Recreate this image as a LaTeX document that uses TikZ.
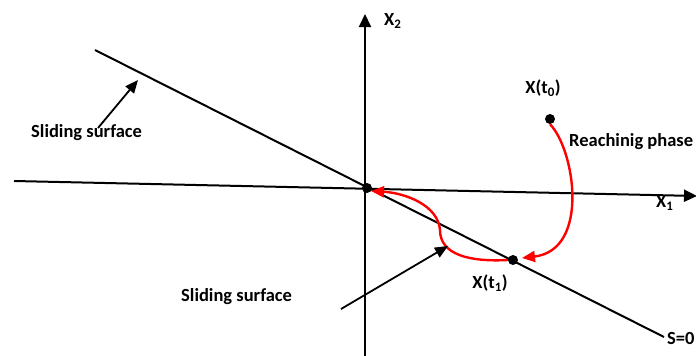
\documentclass[tikz,border=0pt]{standalone}
\usepackage{fontspec}
\setmainfont{Carlito}
\usetikzlibrary{arrows.meta}
\begin{document}
\begin{tikzpicture}[x=1pt,y=-1pt,
  lbl/.style={font=\bfseries\fontsize{18.5}{21}\selectfont, inner sep=0pt},
  axis/.style={line width=2pt,-{Triangle[length=13pt,width=12pt]}},
  pt/.style={circle,fill=black,inner sep=0pt,minimum size=10pt},
  blk/.style={line width=1.8pt,-{Triangle[length=13pt,width=11pt]}},
  redarr/.style={red,line width=2.4pt,-{Triangle[length=13pt,width=11pt]}}]
\useasboundingbox (0,0) rectangle (696,356);
% axes
\coordinate (vb) at (365,356);
\coordinate (vt) at (365,14);
\draw[axis] (vb) -- (vt);
\coordinate (hl) at (14,181);
\coordinate (hr) at (697,196);
\draw[axis] (hl) -- (hr);
\node[lbl,anchor=west] (x2) at (384,21) {X\textsubscript{2}};
\node[lbl,anchor=west] (x1) at (656,203) {X\textsubscript{1}};
% sliding surface
\coordinate (sa) at (95,50);
\coordinate (sb) at (664,337);
\draw[line width=2pt] (sa) -- (sb);
\node[lbl,anchor=west] (s0) at (667,338) {S=0};
% points
\node[pt] (o) at (367,188) {};
\node[pt] (p0) at (550,119) {};
\node[pt] (p1) at (513,260) {};
\node[lbl] (t0) at (543,88) {X(t\textsubscript{0})};
\node[lbl] (t1) at (490,283) {X(t\textsubscript{1})};
\node[lbl,anchor=west] (rp) at (569,142) {Reachinig phase};
% red curves
\draw[redarr] (p0.south) .. controls (575,150) and (590,250) .. (522,258);
\draw[redarr] (p1.west) .. controls (470,262) and (440,255) .. (440,230)
  .. controls (438,205) and (405,193) .. (371,191);
% sliding surface labels
\node[lbl,anchor=west] (ls1) at (31,133) {Sliding surface};
\node[lbl,anchor=west] (ls2) at (181,297) {Sliding surface};
\coordinate (a1s) at (98,128);
\coordinate (a1e) at (138,80);
\draw[blk] (a1s) -- (a1e);
\coordinate (a2s) at (341,309);
\coordinate (a2e) at (448,246);
\draw[blk] (a2s) -- (a2e);
\end{tikzpicture}
\end{document}
